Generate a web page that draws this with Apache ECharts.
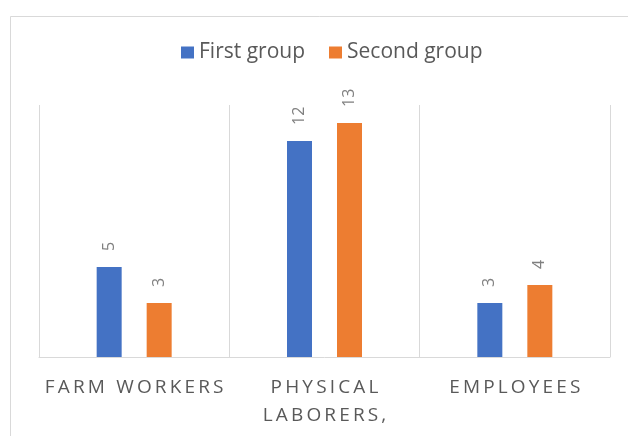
<!DOCTYPE html>
<html>
<head>
<meta charset="utf-8">
<script src="https://cdn.jsdelivr.net/npm/echarts@6/dist/echarts.min.js"></script>
<style>html,body{margin:0;padding:0;background:#fff}#c{width:628px;height:436px}</style>
</head>
<body>
<div id="c"></div>
<script>
const categories = ['FARM WORKERS', 'PHYSICAL\nLABORERS,', 'EMPLOYEES'];
const seriesNames = ['First group', 'Second group'];
const firstGroup = [5, 12, 3];
const secondGroup = [3, 13, 4];
const yMin = 0, yMax = 14;

const SP = '\u2009';
function spaced(s) {
  return s.split('\n').map(line => line.split('').join(SP)).join('\n');
}

const chart = echarts.init(document.getElementById('c'), null, {renderer: 'canvas'});
const labelStyle = {
  show: true, position: 'top', rotate: 90, align: 'left', verticalAlign: 'middle',
  distance: 16, color: '#808080', fontSize: 16, fontFamily: 'Open Sans'
};
chart.setOption({
  animation: false,
  backgroundColor: '#fff',
  textStyle: {fontFamily: 'Open Sans'},
  graphic: [{
    type: 'rect', left: 8, top: 14, shape: {width: 700, height: 500},
    style: {fill: 'none', stroke: '#d9d9d9', lineWidth: 1}, silent: true
  }],
  legend: {
    left: 176, top: 37, itemWidth: 13, itemHeight: 12, itemGap: 24,
    icon: 'rect',
    textStyle: {color: '#595959', fontSize: 21, fontFamily: 'Open Sans'},
    data: seriesNames
  },
  grid: {left: 39, right: 18, top: 105, bottom: 79, containLabel: false},
  xAxis: {
    type: 'category', data: categories,
    axisLine: {show: true, lineStyle: {color: '#d9d9d9', width: 1}},
    axisTick: {show: false},
    splitLine: {show: true, interval: 0, lineStyle: {color: '#d9d9d9', width: 1}},
    axisLabel: {
      interval: 0, color: '#595959', fontSize: 19, fontFamily: 'Open Sans',
      lineHeight: 28, margin: 17, formatter: v => spaced(v)
    }
  },
  yAxis: {
    type: 'value', min: yMin, max: yMax, interval: 14,
    show: false, splitLine: {show: false}
  },
  series: [
    {name: seriesNames[0], type: 'bar', data: firstGroup, barWidth: 25, barGap: '100%',
     itemStyle: {color: '#4472C4'}, label: labelStyle},
    {name: seriesNames[1], type: 'bar', data: secondGroup, barWidth: 25, barGap: '100%',
     itemStyle: {color: '#ED7D31'}, label: labelStyle}
  ]
});
</script>
</body>
</html>
